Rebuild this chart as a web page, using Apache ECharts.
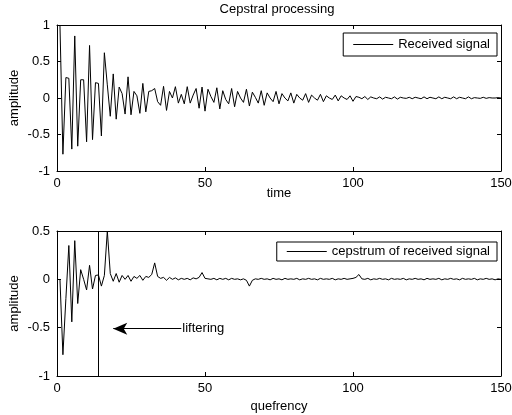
<!DOCTYPE html>
<html>
<head>
<meta charset="utf-8">
<script src="https://cdn.jsdelivr.net/npm/echarts@6/dist/echarts.min.js"></script>
<style>
  html, body { margin: 0; padding: 0; background: #fff; }
  #main { width: 512px; height: 415px; }
</style>
</head>
<body>
<div id="main"></div>
<script>
// samples are 1-indexed (matlab style plot(y))
const received = [
  1.0, -0.77, 0.28, 0.27, -0.70, 0.85, -0.66, 0.25, 0.25, -0.60,
  0.72, -0.57, 0.21, 0.20, -0.52, 0.62, 0.18, -0.25, 0.33, -0.29,
  0.15, 0.06, -0.22, 0.29, -0.23, 0.09, 0.03, -0.21, 0.20, -0.19,
  0.09, 0.10, 0.13, -0.05, -0.10, 0.16, -0.17, 0.09, 0.00, 0.155,
  -0.07, 0.05, -0.08, 0.155, -0.07, 0.04, 0.13, -0.14, 0.15, -0.18,
  0.12, 0.02, -0.06, 0.14, -0.15, 0.10, -0.02, -0.08, 0.13, -0.12,
  0.09, 0.00, -0.06, 0.12, -0.11, 0.08, 0.01, -0.07, 0.10, -0.10,
  0.07, 0.00, -0.05, 0.09, -0.08, 0.06, 0.00, -0.04, 0.07, -0.07,
  0.05, 0.00, -0.03, 0.06, -0.06, 0.04, 0.00, -0.03, 0.05, -0.05,
  0.03, 0.00, -0.02, 0.04, -0.04, 0.03, 0.00, -0.02, 0.03, -0.045,
  0.02, 0.01, -0.01, 0.02, -0.02, 0.015, 0.0, -0.01, 0.015, -0.015,
  0.01, 0.0, -0.01, 0.015, -0.015, 0.01, 0.0, -0.005, 0.01, -0.01,
  0.01, 0.0, -0.01, 0.015, -0.01, 0.01, 0.0, -0.01, 0.015, -0.01,
  0.01, 0.0, -0.01, 0.015, -0.01, 0.01, 0.0, -0.01, 0.015, -0.01,
  0.005, 0.0, -0.005, 0.01, -0.005, 0.005, 0.0, 0.0, 0.005, 0.0
]

const cepstrum = [
  0.0, -0.78, -0.2, 0.35, -0.44, 0.40, -0.25, 0.10, 0.00, -0.11,
  0.145, -0.10, 0.04, 0.045, -0.07, 0.04, 0.50, 0.06, -0.02, 0.06,
  -0.03, 0.04, 0.00, 0.04, -0.02, 0.03, 0.01, 0.04, -0.01, 0.03,
  0.02, 0.05, 0.17, 0.03, 0.01, 0.02, -0.01, 0.02, 0.0, 0.015,
  -0.005, 0.01, 0.0, 0.01, -0.005, 0.015, 0.005, 0.02, 0.07, 0.01,
  0.005, 0.0, 0.01, -0.005, 0.01, 0.0, 0.01, -0.005, 0.01, 0.0,
  0.005, -0.005, 0.005, -0.01, -0.07, -0.01, 0.005, 0.0, 0.01, 0.0,
  0.005, -0.005, 0.01, 0.0, 0.005, -0.005, 0.01, 0.0, 0.005, 0.0,
  0.01, -0.005, 0.005, 0.0, 0.01, 0.0, 0.005, -0.005, 0.01, 0.0,
  0.005, 0.0, 0.01, -0.005, 0.005, 0.0, 0.01, 0.0, 0.005, 0.01,
  0.02, 0.05, 0.005, 0.0, 0.01, -0.005, 0.005, 0.0, 0.01, 0.0,
  0.005, -0.005, 0.01, 0.0, 0.005, 0.0, 0.01, -0.005, 0.005, 0.0,
  0.01, 0.0, 0.005, -0.005, 0.01, 0.0, 0.005, 0.0, 0.01, -0.005,
  0.005, 0.0, 0.01, 0.0, 0.005, -0.005, 0.01, 0.0, 0.005, 0.0,
  0.01, -0.005, 0.005, 0.0, 0.01, 0.0, 0.005, -0.005, 0.005, 0.0
]

const lifterAt = 14
const arrowFrom = [42, -0.51]
const arrowTo = [19, -0.51]

const font = '"Liberation Sans", Arial, sans-serif'
const fs = 13

function xAx(grid, pos, name, gap) {
  return {
    type: 'value',
    gridIndex: grid,
    position: pos,
    min: 0,
    max: 150,
    interval: 50,
    name: name,
    nameLocation: 'middle',
    nameGap: gap,
    nameMoveOverlap: false,
    nameTextStyle: { color: '#000', fontSize: fs, fontFamily: font },
    axisLine: { show: true, onZero: false, lineStyle: { color: '#000', width: 1 } },
    axisTick: { show: true, inside: true, length: 4, lineStyle: { color: '#000' } },
    axisLabel: { show: pos === 'bottom', margin: 6, color: '#000', fontSize: fs, fontFamily: font },
    splitLine: { show: false }
  }
}

function yAx(grid, pos, min, max, name) {
  return {
    type: 'value',
    gridIndex: grid,
    position: pos,
    min: min,
    max: max,
    interval: 0.5,
    name: name,
    nameLocation: 'middle',
    nameGap: 36,
    nameMoveOverlap: false,
    nameTextStyle: { color: '#000', fontSize: fs, fontFamily: font },
    axisLine: { show: true, onZero: false, lineStyle: { color: '#000', width: 1 } },
    axisTick: { show: true, inside: true, length: 4, lineStyle: { color: '#000' } },
    axisLabel: { show: pos === 'left', margin: 7, color: '#000', fontSize: fs, fontFamily: font },
    splitLine: { show: false }
  }
}

function legendBox(top, right, padding, name) {
  return {
    data: [name],
    top: top,
    right: right,
    orient: 'horizontal',
    icon: 'rect',
    itemWidth: 40,
    itemHeight: 1,
    itemGap: 0,
    padding: padding,
    borderColor: '#000',
    borderWidth: 1,
    borderRadius: 0,
    backgroundColor: '#fff',
    selectedMode: false,
    textStyle: { color: '#000', fontSize: fs, fontFamily: font }
  }
}

const chart = echarts.init(document.getElementById('main'))
chart.setOption({
  animation: false,
  backgroundColor: '#fff',
  title: {
    text: 'Cepstral processing',
    left: 277,
    top: 3,
    padding: 0,
    textAlign: 'center',
    textStyle: { color: '#000', fontSize: fs, fontWeight: 'normal', fontFamily: font }
  },
  legend: [
    legendBox(33, 15, [5, 7, 5, 10], 'Received signal'),
    legendBox(242, 15, [3, 7, 3, 10], 'cepstrum of received signal')
  ],
  grid: [
    { left: 57, right: 11, top: 25, height: 146, outerBoundsMode: 'none' },
    { left: 57, right: 11, top: 231, height: 145, outerBoundsMode: 'none' }
  ],
  xAxis: [
    xAx(0, 'bottom', 'time', 16),
    xAx(0, 'top', '', 0),
    xAx(1, 'bottom', 'quefrency', 24),
    xAx(1, 'top', '', 0)
  ],
  yAxis: [
    yAx(0, 'left', -1, 1, 'amplitude'),
    yAx(0, 'right', -1, 1, ''),
    yAx(1, 'left', -1, 0.5, 'amplitude'),
    yAx(1, 'right', -1, 0.5, '')
  ],
  series: [
    {
      name: 'Received signal',
      type: 'line',
      xAxisIndex: 0,
      yAxisIndex: 0,
      symbol: 'none',
      itemStyle: { color: '#000' },
      lineStyle: { color: '#000', width: 1 },
      data: received.map((v, i) => [i + 1, v])
    },
    {
      name: 'cepstrum of received signal',
      type: 'line',
      xAxisIndex: 2,
      yAxisIndex: 2,
      symbol: 'none',
      itemStyle: { color: '#000' },
      lineStyle: { color: '#000', width: 1 },
      data: cepstrum.map((v, i) => [i + 1, v]),
      markLine: {
        silent: true,
        animation: false,
        symbol: 'none',
        lineStyle: { color: '#000', width: 1, type: 'solid' },
        label: { show: false },
        emphasis: { disabled: true },
        data: [
          { xAxis: lifterAt },
          [
            {
              coord: arrowFrom,
              symbol: 'none',
              label: {
                show: true,
                position: 'start',
                distance: 1,
                formatter: 'liftering',
                color: '#000',
                fontSize: fs,
                fontFamily: font
              }
            },
            { coord: arrowTo, symbol: 'arrow', symbolSize: [9, 14] }
          ]
        ]
      }
    }
  ]
})
</script>
</body>
</html>
